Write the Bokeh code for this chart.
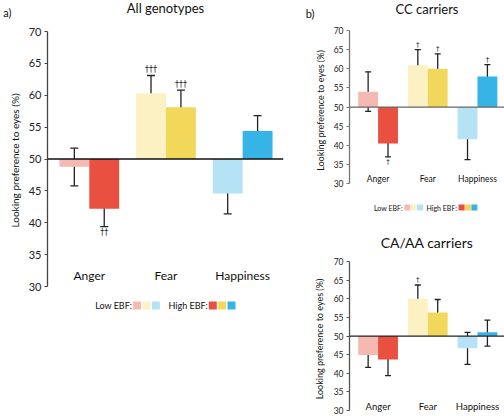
from bokeh.plotting import figure
from bokeh.models import (ColumnDataSource, Range1d, FixedTicker, Span, Whisker, TeeHead, LinearAxis)
from bokeh.layouts import row, column
from bokeh.embed import file_html
from bokeh.resources import INLINE
from bokeh.core.properties import value

FONT = "Lato"
SIG_FONT = "DejaVu Sans"

categories = ["Anger", "Fear", "Happiness"]
low_colors = ["#F5B9B1", "#FBF1C3", "#B5E3F5"]
high_colors = ["#E9503F", "#F1D85B", "#36B4E6"]
legend_low_label = "Low EBF:"
legend_high_label = "High EBF:"
y_ticks = [30, 35, 40, 45, 50, 55, 60, 65, 70]
y_label = "Looking preference to eyes (%)"

# a) All genotypes
all_low = [48.8, 60.3, 44.6]
all_low_lo = [45.8, 57.7, 41.4]
all_low_hi = [51.7, 63.1, 47.9]
all_high = [42.2, 58.1, 54.4]
all_high_lo = [39.4, 55.6, 52.0]
all_high_hi = [44.9, 60.8, 56.8]
all_low_sig = ["", "†††", ""]
all_high_sig = ["††", "†††", ""]

# b) CC carriers
cc_low = [54.0, 60.9, 41.6]
cc_low_lo = [48.9, 56.8, 36.3]
cc_low_hi = [59.2, 65.0, 46.5]
cc_high = [40.5, 60.0, 58.0]
cc_high_lo = [37.0, 56.4, 54.9]
cc_high_hi = [43.9, 63.9, 61.1]
cc_low_sig = ["", "†", ""]
cc_high_sig = ["†", "†", "†"]

# CA/AA carriers
ca_low = [44.9, 60.0, 46.7]
ca_low_lo = [41.6, 56.3, 42.4]
ca_low_hi = [48.1, 63.7, 51.0]
ca_high = [43.7, 56.3, 51.0]
ca_high_lo = [39.4, 52.7, 47.3]
ca_high_hi = [47.8, 59.8, 54.3]
ca_low_sig = ["", "†", ""]
ca_high_sig = ["", "", ""]


def make_panel(title, low, low_lo, low_hi, high, high_lo, high_hi, low_sig, high_sig, c):
    def dx(px):
        return c["xs"] + (px - c["fx0"]) / c["sx"]

    def dy(py):
        return 70 - (py - c["y70"]) / c["sy"]

    glyph_title = c.get("title_y") is not None
    p = figure(width=c["w"], height=c["h"],
               x_range=Range1d(c["xs"], dx(c["fx1"])), y_range=Range1d(dy(c["fy1"]), dy(c["fy0"])),
               output_backend="svg", toolbar_location=None, x_axis_location=None,
               min_border_left=c["fx0"] - c["left"], min_border_right=c["left"] + c["w"] - c["fx1"],
               min_border_top=c["fy0"] - c["top"], min_border_bottom=c["top"] + c["h"] - c["fy1"],
               title=None if glyph_title else title)
    p.outline_line_color = None
    p.grid.visible = False
    if not glyph_title:
        p.title.align = "center"
        p.title.text_font = FONT
        p.title.text_font_style = "normal"
        p.title.text_font_size = c["title_fs"]
        p.title.text_color = "#111111"
        p.title.standoff = c["title_standoff"]

    ax = p.yaxis[0]
    ax.ticker = FixedTicker(ticks=y_ticks)
    ax.bounds = (30, 70)
    ax.axis_label = y_label
    ax.axis_label_text_font = FONT
    ax.axis_label_text_font_style = "normal"
    ax.axis_label_text_font_size = c["axl_fs"]
    ax.axis_label_text_color = "#111111"
    ax.axis_label_standoff = c["axl_standoff"]
    ax.major_label_text_font = FONT
    ax.major_label_text_font_size = c["tick_fs"]
    ax.major_label_text_color = "#222222"
    ax.major_label_standoff = 3
    ax.major_tick_in = 0
    ax.major_tick_out = 3
    ax.minor_tick_line_color = None
    ax.axis_line_color = c["axis_color"]
    ax.major_tick_line_color = c["axis_color"]
    ax.axis_line_width = 1.3

    # panel letter, as the single tick label of an outer left axis
    if c.get("letter"):
        lv = c["letter_val"]
        ax2 = LinearAxis(ticker=FixedTicker(ticks=[lv]), major_label_overrides={lv: c["letter"]},
                         axis_line_color=None, major_tick_line_color=None, minor_tick_line_color=None,
                         major_tick_in=0, major_tick_out=0, major_label_standoff=c["letter_standoff"],
                         major_label_text_font=FONT, major_label_text_font_size=c["letter_fs"],
                         major_label_text_color="#111111")
        p.add_layout(ax2, "left")

    w = c["bw"]
    xs = list(range(len(categories)))
    low_x = [x - w / 2 for x in xs]
    high_x = [x + w / 2 for x in xs]

    src_low = ColumnDataSource(dict(x=low_x, top=low, lo=low_lo, hi=low_hi, color=low_colors))
    src_high = ColumnDataSource(dict(x=high_x, top=high, lo=high_lo, hi=high_hi, color=high_colors))
    for src in (src_low, src_high):
        p.vbar(x="x", top="top", bottom=50, width=w, fill_color="color", line_color=None, source=src)

    p.add_layout(Span(location=50, dimension="width", line_color=c["zero_color"], line_width=1.3))

    for src in (src_low, src_high):
        wk = Whisker(base="x", upper="hi", lower="lo", source=src, line_color="#222222", line_width=1.3,
                     upper_head=TeeHead(size=c["cap"], line_color="#222222", line_width=1.3),
                     lower_head=TeeHead(size=c["cap"], line_color="#222222", line_width=1.3))
        p.add_layout(wk)

    off = c["sig_off"] / c["sy"]
    sx_, sy_, st_ = [], [], []
    for xv, m, lo, hi, s in list(zip(low_x, low, low_lo, low_hi, low_sig)) + list(zip(high_x, high, high_lo, high_hi, high_sig)):
        if s:
            sx_.append(xv)
            sy_.append(hi + off if m >= 50 else lo - off)
            st_.append(s)
    if st_:
        p.text(x=sx_, y=sy_, text=st_, text_font=value(SIG_FONT), text_font_size=c["sig_fs"],
               text_align="center", text_baseline="middle", text_color="#222222")

    p.text(x=xs, y=[dy(c["cat_y"])] * len(xs), text=categories, text_font=value(FONT),
           text_font_size=c["cat_fs"], text_align="center", text_baseline="middle", text_color="#111111")

    if glyph_title:
        p.text(x=[dx((c["fx0"] + c["fx1"]) / 2)], y=[dy(c["title_y"])], text=[title],
               text_font=value(FONT), text_font_size=c["title_fs"], text_align="center",
               text_baseline="middle", text_color="#111111")

    if c.get("leg"):
        L = c["leg"]
        ly = dy(L["y"])
        p.text(x=[dx(L["low_text"]), dx(L["high_text"])], y=[ly, ly],
               text=[legend_low_label, legend_high_label], text_font=value(FONT),
               text_font_size=L["fs"], text_align="right", text_baseline="middle", text_color="#111111")
        lx = [dx(L["low_start"] + i * L["step"]) for i in range(len(low_colors))]
        hx = [dx(L["high_start"] + i * L["step"]) for i in range(len(high_colors))]
        p.rect(x=lx + hx, y=[ly] * (len(lx) + len(hx)), width=L["size"], height=L["size"],
               width_units="screen", height_units="screen", fill_color=low_colors + high_colors,
               line_color=None)
    return p


cfg_a = dict(left=0, top=0, w=302, h=330, fx0=46, fx1=283, fy0=0, fy1=320, xs=-0.545, sx=77.0,
             y70=31, sy=6.375, bw=0.39, title_fs="13px", title_y=7, axl_fs="10px", axl_standoff=5,
             tick_fs="11px", axis_color="#444444", zero_color="#111111", cap=8, sig_off=5.5,
             sig_fs="8px", cat_y=275, cat_fs="12px",
             leg=dict(y=305, low_text=131, high_text=207, low_start=136, high_start=212, step=9.4,
                      size=8, fs="9px"),
             letter="a)", letter_val=73, letter_fs="11px", letter_standoff=-6)

cfg_b = dict(left=302, top=0, w=202, h=220, fx0=344, fx1=504, fy0=0, fy1=220, xs=-0.575, sx=51.3,
             y70=30, sy=3.83, bw=0.40, title_fs="13px", title_y=8, axl_fs="9px", axl_standoff=5,
             tick_fs="8.5px", axis_color="#777777", zero_color="#666666", cap=6, sig_off=5,
             sig_fs="7px", cat_y=178, cat_fs="8.5px",
             leg=dict(y=207, low_text=399, high_text=455, low_start=403.7, high_start=459.7, step=6.6,
                      size=6, fs="7px"),
             letter="b)", letter_val=74.5, letter_fs="11px", letter_standoff=-3)

cfg_c = dict(left=302, top=220, w=202, h=196, fx0=344, fx1=504, fy0=258, fy1=416, xs=-0.575, sx=51.3,
             y70=258, sy=3.8, bw=0.40, title_fs="14px", title_standoff=22, axl_fs="9px", axl_standoff=6,
             tick_fs="8.5px", axis_color="#555555", zero_color="#222222", cap=6, sig_off=5,
             sig_fs="7px", cat_y=406, cat_fs="9.5px")

pa = make_panel("All genotypes", all_low, all_low_lo, all_low_hi, all_high, all_high_lo, all_high_hi,
                all_low_sig, all_high_sig, cfg_a)
pb = make_panel("CC carriers", cc_low, cc_low_lo, cc_low_hi, cc_high, cc_high_lo, cc_high_hi,
                cc_low_sig, cc_high_sig, cfg_b)
pc = make_panel("CA/AA carriers", ca_low, ca_low_lo, ca_low_hi, ca_high, ca_high_lo, ca_high_hi,
                ca_low_sig, ca_high_sig, cfg_c)

layout = row(pa, column(pb, pc))
open("out.html", "w").write(file_html(layout, INLINE))
